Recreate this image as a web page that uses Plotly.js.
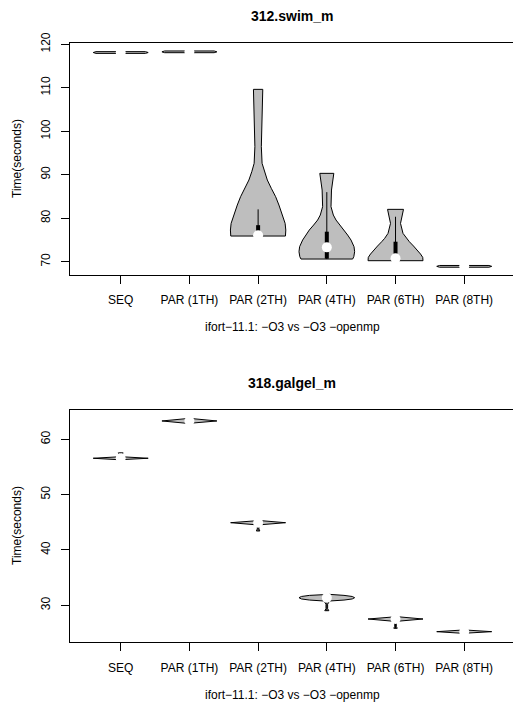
<!DOCTYPE html>
<html>
<head>
<meta charset="utf-8">
<script src="https://cdn.plot.ly/plotly-3.0.1.min.js"></script>
<style>html,body{margin:0;padding:0;background:#fff;}#chart{width:513px;height:702px;}</style>
</head>
<body>
<div id="chart"></div>
<script>
// ---- categories / labels ----
const categories = ['SEQ', 'PAR (1TH)', 'PAR (2TH)', 'PAR (4TH)', 'PAR (6TH)', 'PAR (8TH)'];
const titleSwim = '312.swim_m';
const titleGalgel = '318.galgel_m';
const xAxisTitle = 'ifort\u221211.1: \u2212O3 vs \u2212O3 \u2212openmp';
const yAxisTitle = 'Time(seconds)';
const swimTicks = [70, 80, 90, 100, 110, 120];
const galgelTicks = [30, 40, 50, 60];

// ---- 312.swim_m : violin outlines (time values, half-widths in category units) ----
const swimProfileY = [
  [117.91, 118.11, 118.31],
  [118.07, 118.27, 118.47],
  [75.90, 77.28, 78.82, 81.12, 83.03, 84.95, 86.87, 88.78, 90.70, 92.62, 96.45, 104.12, 109.64],
  [70.61, 71.15, 72.30, 73.45, 74.98, 76.13, 77.28, 78.43, 79.58, 80.73, 82.65, 86.48, 88.78, 90.32],
  [70.23, 71.00, 71.76, 72.68, 73.60, 74.60, 75.36, 76.51, 78.81, 80.73, 82.04],
  [68.73, 68.93, 69.13]
];
const swimProfileW = [
  [0.36, 0.40, 0.36],
  [0.36, 0.40, 0.36],
  [0.398, 0.403, 0.393, 0.346, 0.303, 0.255, 0.192, 0.134, 0.092, 0.058, 0.047, 0.058, 0.068],
  [0.376, 0.393, 0.405, 0.396, 0.352, 0.303, 0.255, 0.192, 0.134, 0.095, 0.061, 0.068, 0.092, 0.102],
  [0.400, 0.396, 0.364, 0.316, 0.262, 0.201, 0.158, 0.109, 0.073, 0.099, 0.116],
  [0.36, 0.40, 0.36]
];
const swimMedian = [118.11, 118.27, 76.10, 73.30, 70.77, 68.93];
const swimQ1     = [118.11, 118.27, 76.00, 70.70, 70.90, 68.93];
const swimQ3     = [118.11, 118.27, 78.40, 76.90, 74.60, 68.93];
const swimLow    = [118.11, 118.27, 75.90, 70.61, 70.23, 68.93];
const swimHigh   = [118.11, 118.27, 82.04, 86.00, 80.34, 68.93];

// ---- 318.galgel_m ----
const galgelProfileY = [
  [56.30, 56.57, 56.84, 57.10, 57.55],
  [62.86, 63.31, 63.76],
  [43.43, 43.80, 44.30, 44.54, 44.93, 45.32],
  [29.03, 29.40, 30.20, 30.78, 30.95, 31.15, 31.38, 31.60, 31.80, 31.98],
  [25.85, 26.20, 26.80, 27.11, 27.53, 27.95],
  [24.94, 25.24, 25.54]
];
const galgelProfileW = [
  [0.02, 0.40, 0.02, 0.012, 0.035],
  [0.02, 0.40, 0.02],
  [0.025, 0.012, 0.010, 0.020, 0.40, 0.02],
  [0.03, 0.012, 0.012, 0.04, 0.25, 0.37, 0.405, 0.37, 0.25, 0.04],
  [0.025, 0.012, 0.010, 0.020, 0.40, 0.02],
  [0.02, 0.40, 0.02]
];
const galgelMedian = [56.57, 63.31, 44.93, 31.38, 27.53, 25.24];
const galgelQ1     = [56.57, 63.31, 44.93, 31.38, 27.53, 25.24];
const galgelQ3     = [57.30, 63.31, 44.93, 31.38, 27.53, 25.24];
const galgelLow    = [56.50, 63.31, 43.43, 29.03, 25.85, 25.24];
const galgelHigh   = [57.55, 63.31, 44.93, 31.38, 27.53, 25.24];

// ---- build traces ----
const FONT = 'Liberation Sans, Arial, Helvetica, sans-serif';
const GREY = '#bebebe';

function violinTraces(pY, pW, med, q1, q3, lo, hi, xa, ya) {
  const polys = [], whisk = [], boxes = [];
  const mx = [], my = [];
  categories.forEach((c, i) => {
    const ys = pY[i], ws = pW[i];
    const xs = ws.map(w => i - w).concat(ws.slice().reverse().map(w => i + w));
    const yy = ys.concat(ys.slice().reverse());
    xs.push(xs[0]); yy.push(yy[0]);
    polys.push({type: 'scatter', mode: 'lines', x: xs, y: yy, xaxis: xa, yaxis: ya,
      fill: 'toself', fillcolor: GREY, line: {color: '#000', width: 1}, hoverinfo: 'skip'});
    if (hi[i] > lo[i]) {
      whisk.push({type: 'scatter', mode: 'lines', x: [i, i], y: [lo[i], hi[i]], xaxis: xa, yaxis: ya,
        line: {color: '#000', width: 1}, hoverinfo: 'skip'});
    }
    if (q3[i] > q1[i]) {
      boxes.push({type: 'scatter', mode: 'lines', x: [i, i], y: [q1[i], q3[i]], xaxis: xa, yaxis: ya,
        line: {color: '#000', width: 4}, hoverinfo: 'skip'});
    }
    mx.push(i); my.push(med[i]);
  });
  const meds = {type: 'scatter', mode: 'markers', x: mx, y: my, xaxis: xa, yaxis: ya,
    marker: {color: '#fff', size: 10, line: {width: 0}}, hoverinfo: 'skip'};
  return polys.concat(whisk, boxes, [meds]);
}

const data = violinTraces(swimProfileY, swimProfileW, swimMedian, swimQ1, swimQ3, swimLow, swimHigh, 'x', 'y')
  .concat(violinTraces(galgelProfileY, galgelProfileW, galgelMedian, galgelQ1, galgelQ3, galgelLow, galgelHigh, 'x2', 'y2'));

const W = 513, H = 702;
const px = v => v / W;
const py = v => 1 - v / H;

function xAxis(anchor) {
  return {
    anchor: anchor, domain: [px(70), 1], range: [-0.738, 5.710],
    tickmode: 'array', tickvals: categories.map((c, i) => i), ticktext: categories,
    ticks: 'outside', ticklen: 8, tickcolor: '#000', tickwidth: 1,
    showline: true, linecolor: '#000', linewidth: 1, mirror: true,
    showgrid: false, zeroline: false, fixedrange: true,
    ticklabelstandoff: 6,
    tickfont: {family: FONT, size: 12, color: '#000'}
  };
}
function yAxis(anchor, top, bottom, range, ticks) {
  return {
    anchor: anchor, domain: [py(bottom), py(top)], range: range,
    tickmode: 'array', tickvals: ticks, ticktext: ticks.map(String), tickangle: -90,
    ticks: 'outside', ticklen: 8, tickcolor: '#000', tickwidth: 1,
    showline: true, linecolor: '#000', linewidth: 1, mirror: false,
    showgrid: false, zeroline: false, fixedrange: true,
    ticklabelstandoff: 6,
    tickfont: {family: FONT, size: 12, color: '#000'}
  };
}

const layout = {
  width: W, height: H,
  margin: {l: 0, r: 0, t: 0, b: 0, pad: 0},
  paper_bgcolor: '#fff', plot_bgcolor: '#fff',
  showlegend: false,
  font: {family: FONT, color: '#000'},
  xaxis: xAxis('y'),
  yaxis: yAxis('x', 43, 275, [66.94, 120.30], swimTicks),
  xaxis2: xAxis('y2'),
  yaxis2: yAxis('x2', 410, 642.3, [23.32, 65.29], galgelTicks),
  annotations: [
    {text: '<b>' + titleSwim + '</b>', x: px(292), y: py(16), xref: 'paper', yref: 'paper',
      xanchor: 'center', yanchor: 'middle', showarrow: false, font: {family: FONT, size: 14, color: '#000'}},
    {text: '<b>' + titleGalgel + '</b>', x: px(292), y: py(383), xref: 'paper', yref: 'paper',
      xanchor: 'center', yanchor: 'middle', showarrow: false, font: {family: FONT, size: 14, color: '#000'}},
    {text: xAxisTitle, x: px(292), y: py(327), xref: 'paper', yref: 'paper',
      xanchor: 'center', yanchor: 'middle', showarrow: false, font: {family: FONT, size: 12, color: '#000'}},
    {text: xAxisTitle, x: px(292), y: py(695), xref: 'paper', yref: 'paper',
      xanchor: 'center', yanchor: 'middle', showarrow: false, font: {family: FONT, size: 12, color: '#000'}},
    {text: yAxisTitle, x: px(17), y: py(159), xref: 'paper', yref: 'paper', textangle: -90,
      xanchor: 'center', yanchor: 'middle', showarrow: false, font: {family: FONT, size: 12, color: '#000'}},
    {text: yAxisTitle, x: px(17), y: py(526), xref: 'paper', yref: 'paper', textangle: -90,
      xanchor: 'center', yanchor: 'middle', showarrow: false, font: {family: FONT, size: 12, color: '#000'}}
  ]
};

Plotly.newPlot('chart', data, layout, {staticPlot: true, displayModeBar: false});
</script>
</body>
</html>
